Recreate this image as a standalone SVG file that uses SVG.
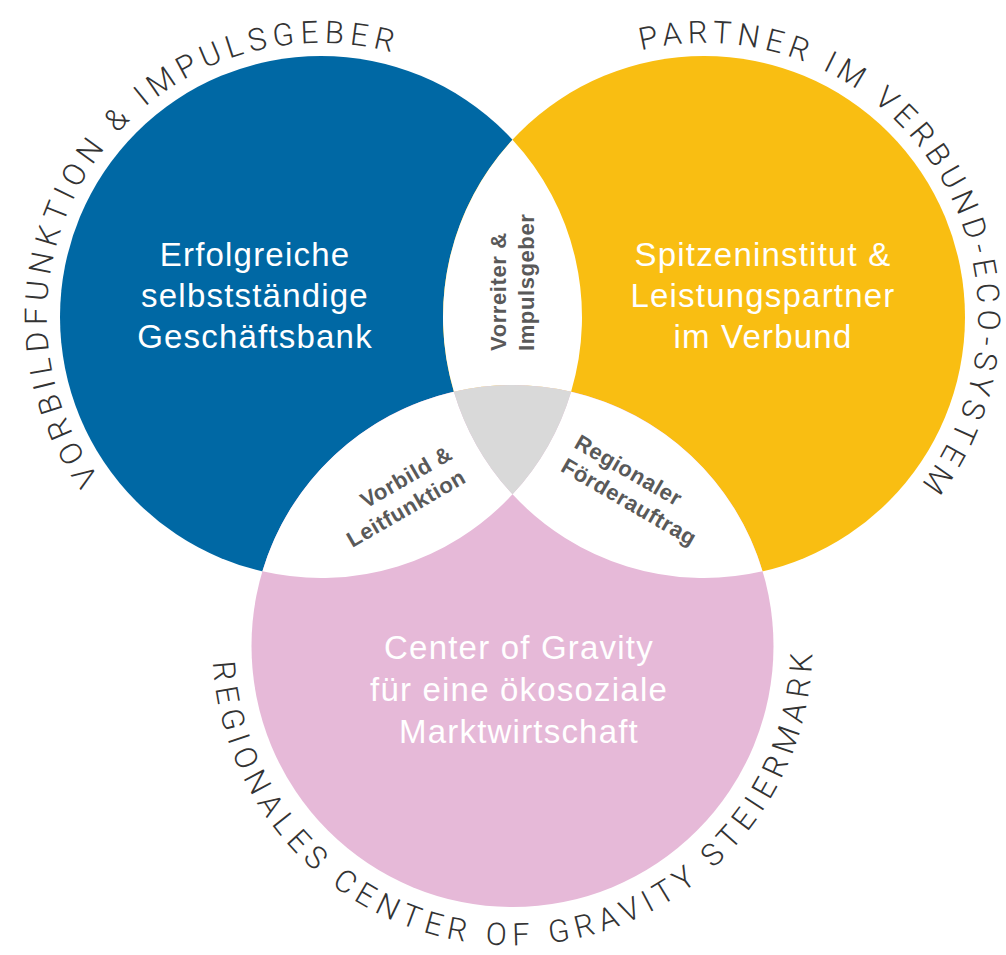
<svg xmlns="http://www.w3.org/2000/svg" width="1006" height="955" viewBox="0 0 1006 955">
<defs>
<style>
.main{font-family:"Liberation Sans",Arial,sans-serif;font-size:33px;fill:#ffffff;text-anchor:middle;letter-spacing:1.2px}
.lab{font-family:"Liberation Sans",Arial,sans-serif;font-size:22px;font-weight:bold;fill:#595959;letter-spacing:0.6px}
.arc{font-family:Roboto,"Liberation Sans",Arial,sans-serif;font-size:31px;font-weight:300;fill:#333333}
</style>
<path id="arcBlue" d="M99.3,478.1 A274,274 0 0,1 458,79.7"/>
<path id="arcYellow" d="M641,50.3 A274,274 0 0,1 854.5,546"/>
<path id="arcPink" d="M212.9,662.2 A300,300 0 1,0 809.6,604.3"/>
</defs>
<rect width="1006" height="955" fill="#ffffff"/>
<g id="node-blue">
<circle cx="321" cy="317" r="261" fill="#0068A4"/>
</g>
<g id="node-yellow">
<circle cx="704" cy="317" r="261" fill="#F9BE12"/>
</g>
<g id="node-pink">
<circle cx="512.5" cy="646" r="261" fill="#E6B9D8"/>
</g>
<g id="overlaps">
<path id="lens-top" fill="#ffffff" d="M512.5,139.66 A261,261 0 0,0 453.91,391.66 A261,261 0 0,1 571.09,391.66 A261,261 0 0,0 512.5,139.66 Z"/>
<path id="lens-left" fill="#ffffff" d="M262.41,571.34 A261,261 0 0,1 453.91,391.66 A261,261 0 0,0 512.5,494.34 A261,261 0 0,1 262.41,571.34 Z"/>
<path id="lens-right" fill="#ffffff" d="M571.09,391.66 A261,261 0 0,1 762.59,571.34 A261,261 0 0,1 512.5,494.34 A261,261 0 0,0 571.09,391.66 Z"/>
<path id="center" fill="#D9D9D9" d="M453.91,391.66 A261,261 0 0,1 571.09,391.66 A261,261 0 0,1 512.5,494.34 A261,261 0 0,1 453.91,391.66 Z"/>
</g>
<g id="text-blue">
<text class="main" x="255" y="266">Erfolgreiche</text>
<text class="main" x="255" y="307">selbstständige</text>
<text class="main" x="255" y="348">Geschäftsbank</text>
</g>
<g id="text-yellow">
<text class="main" x="763" y="266">Spitzeninstitut &amp;</text>
<text class="main" x="763" y="307">Leistungspartner</text>
<text class="main" x="763" y="348">im Verbund</text>
</g>
<g id="text-pink">
<text class="main" x="519" y="659">Center of Gravity</text>
<text class="main" x="519" y="701">für eine ökosoziale</text>
<text class="main" x="519" y="743">Marktwirtschaft</text>
</g>
<g id="label-top" transform="translate(506,351) rotate(-90)">
<text class="lab" x="0" y="0">Vorreiter &amp;</text>
<text class="lab" x="0" y="28">Impulsgeber</text>
</g>
<g id="label-left" transform="translate(454,458) rotate(-30)">
<text class="lab" x="0" y="0" text-anchor="end">Vorbild &amp;</text>
<text class="lab" x="0" y="27" text-anchor="end">Leitfunktion</text>
</g>
<g id="label-right" transform="translate(573,447) rotate(30)">
<text class="lab" x="0" y="0">Regionaler</text>
<text class="lab" x="0" y="27">Förderauftrag</text>
</g>
<g id="arc-texts">
<text class="arc"><textPath href="#arcBlue" textLength="674" lengthAdjust="spacing">VORBILDFUNKTION &amp; IMPULSGEBER</textPath></text>
<text class="arc"><textPath href="#arcYellow" textLength="674" lengthAdjust="spacing">PARTNER IM VERBUND-ECO-SYSTEM</textPath></text>
<text class="arc"><textPath href="#arcPink" textLength="917" lengthAdjust="spacing">REGIONALES CENTER OF GRAVITY STEIERMARK</textPath></text>
</g>
</svg>
